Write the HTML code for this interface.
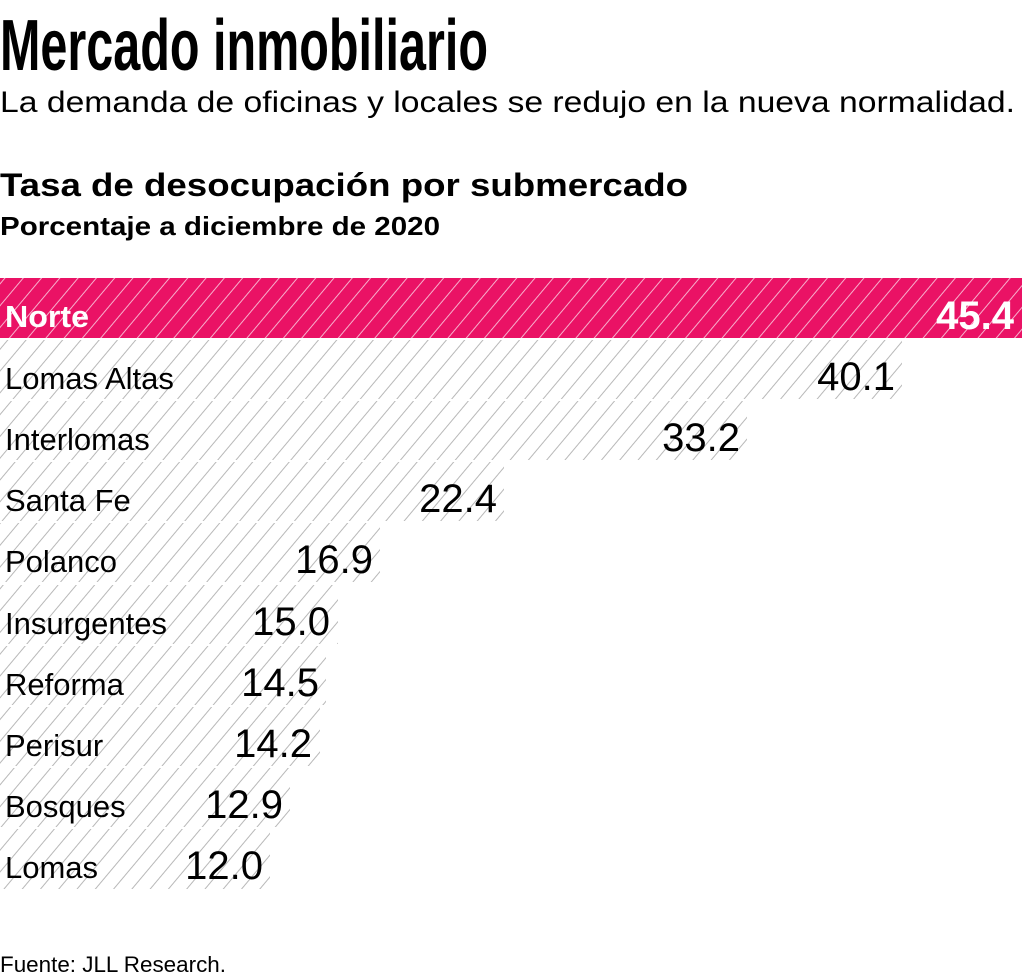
<!DOCTYPE html>
<html><head><meta charset="utf-8"><style>html,body{margin:0;padding:0;background:#fff}svg{display:block}</style></head>
<body>
<svg width="1024" height="978" viewBox="0 0 1024 978" xmlns="http://www.w3.org/2000/svg" font-family="'Liberation Sans', sans-serif">
<defs>
<pattern id="hg" width="14" height="14" patternUnits="userSpaceOnUse" patternTransform="rotate(40)">
<rect width="14" height="14" fill="#fff"/><line x1="0" y1="0" x2="0" y2="14" stroke="#b8b8b8" stroke-width="2"/>
</pattern>
<pattern id="hp" width="14" height="14" patternUnits="userSpaceOnUse" patternTransform="rotate(40)">
<rect width="14" height="14" fill="#ea1265"/><line x1="0" y1="0" x2="0" y2="14" stroke="#f7b0cc" stroke-width="2"/>
</pattern>
</defs>
<text x="0" y="70" font-family="'Liberation Sans Narrow','Liberation Sans',sans-serif" font-size="72" font-weight="bold" textLength="488" lengthAdjust="spacingAndGlyphs">Mercado inmobiliario</text>
<text x="0" y="112" font-size="30" textLength="1015" lengthAdjust="spacingAndGlyphs">La demanda de oficinas y locales se redujo en la nueva normalidad.</text>
<text x="0" y="196" font-size="32" font-weight="bold" textLength="688" lengthAdjust="spacingAndGlyphs">Tasa de desocupación por submercado</text>
<text x="0" y="235" font-size="26" font-weight="bold" textLength="440" lengthAdjust="spacingAndGlyphs">Porcentaje a diciembre de 2020</text>

<rect x="0" y="278" width="1022" height="60" fill="url(#hp)"/>
<text x="5" y="327" font-size="31" font-weight="bold" fill="#fff" textLength="84" lengthAdjust="spacingAndGlyphs">Norte</text>
<text x="1014" y="329" font-size="40" font-weight="bold" fill="#fff" text-anchor="end">45.4</text>

<g font-size="31">
<rect x="0" y="340" width="902" height="59" fill="url(#hg)"/>
<text x="5" y="389">Lomas Altas</text><text x="895" y="390" font-size="40" text-anchor="end">40.1</text>
<rect x="0" y="401" width="747" height="59" fill="url(#hg)"/>
<text x="5" y="450">Interlomas</text><text x="740" y="451" font-size="40" text-anchor="end">33.2</text>
<rect x="0" y="462" width="504" height="59" fill="url(#hg)"/>
<text x="5" y="511">Santa Fe</text><text x="497" y="512" font-size="40" text-anchor="end">22.4</text>
<rect x="0" y="523" width="380" height="59" fill="url(#hg)"/>
<text x="5" y="572">Polanco</text><text x="373" y="573" font-size="40" text-anchor="end">16.9</text>
<rect x="0" y="585" width="338" height="59" fill="url(#hg)"/>
<text x="5" y="634">Insurgentes</text><text x="330" y="635" font-size="40" text-anchor="end">15.0</text>
<rect x="0" y="646" width="326" height="59" fill="url(#hg)"/>
<text x="5" y="695">Reforma</text><text x="319" y="696" font-size="40" text-anchor="end">14.5</text>
<rect x="0" y="707" width="320" height="59" fill="url(#hg)"/>
<text x="5" y="756">Perisur</text><text x="312" y="757" font-size="40" text-anchor="end">14.2</text>
<rect x="0" y="768" width="290" height="59" fill="url(#hg)"/>
<text x="5" y="817">Bosques</text><text x="283" y="818" font-size="40" text-anchor="end">12.9</text>
<rect x="0" y="829" width="270" height="60" fill="url(#hg)"/>
<text x="5" y="878">Lomas</text><text x="263" y="879" font-size="40" text-anchor="end">12.0</text>
</g>
<text x="0" y="972" font-size="22" textLength="226" lengthAdjust="spacingAndGlyphs">Fuente: JLL Research.</text>
</svg>
</body></html>
